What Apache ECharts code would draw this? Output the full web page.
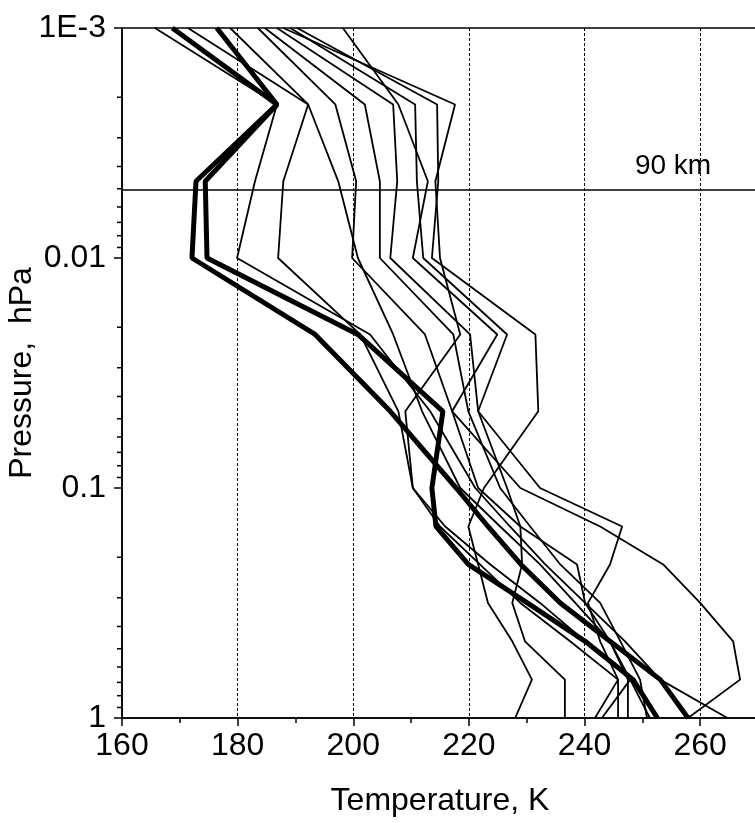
<!DOCTYPE html>
<html><head><meta charset="utf-8">
<script src="https://cdn.jsdelivr.net/npm/echarts@6/dist/echarts.min.js"></script>
<style>html,body{margin:0;padding:0;background:#fff}#c{width:755px;height:823px}</style>
</head><body><div id="c"></div>
<script>
// Pressure levels (hPa) shared by all profiles
const pressureLevels = [0.001, 0.00215, 0.00464, 0.01, 0.0215, 0.0464, 0.1, 0.147, 0.215, 0.316, 0.464, 0.681, 1];

// Thick profiles (temperature, K)
const thickA = [168.7, 186.8, 172.8, 172.1, 193.4, 206.4, 217.8, 223.3, 229.0, 235.8, 244.4, 253.1, 257.9];
const thickB = [176.4, 186.8, 174.4, 174.7, 200.8, 215.5, 213.6, 214.3, 219.9, 230.1, 240.1, 248.4, 252.6];

// Thin profiles (temperature, K)
const thin1  = [165.7, 186.8, 183.0, 179.9, 202.9, 213.3, 221.1, 227.1, 233.2, 240.1, 247.0, 253.1, 264.7];
const thin2  = [171.4, 192.2, 187.9, 187.0, 201.2, 207.8, 210.3, 215.0, 221.9, 228.9, 237.5, 245.8, 245.8];
const thin3  = [178.7, 192.2, 197.4, 200.8, 206.9, 211.9, 218.5, 225.4, 232.3, 238.4, 244.4, 247.5, 247.5];
const thin4  = [183.5, 196.9, 200.5, 199.8, 212.4, 217.1, 221.6, 228.9, 238.7, 240.1, 244.4, 247.9, 243.0];
const thin5  = [184.7, 202.0, 204.6, 204.6, 217.3, 219.9, 225.4, 230.6, 235.8, 242.7, 246.2, 249.6, 250.8];
const thin6  = [186.8, 206.9, 207.6, 206.4, 220.2, 221.6, 232.3, 246.5, 244.4, 240.6, 242.7, 245.8, 241.8];
const thin7  = [198.2, 207.8, 212.9, 210.3, 224.9, 217.1, 228.9, 242.7, 253.6, 260.0, 265.7, 266.9, 257.9];
const thin8  = [189.1, 210.7, 211.0, 212.1, 226.6, 221.6, 226.6, 228.9, 229.2, 227.5, 229.7, 236.6, 236.6];
const thin9  = [190.3, 214.5, 214.7, 213.6, 231.5, 232.0, 222.6, 219.9, 221.6, 223.3, 227.5, 230.9, 228.0];
const thin10 = [187.9, 217.6, 214.2, 215.0, 218.5, 209.0, 210.3, 215.9, 223.7, 232.3, 240.1, 247.9, 251.3];

const thinProfiles = [thin1, thin2, thin3, thin4, thin5, thin6, thin7, thin8, thin9, thin10];
const thickProfiles = [thickA, thickB];

// Axis ticks
const xTicks = [160, 180, 200, 220, 240, 260];
const yMinorTicks = [0.002,0.003,0.004,0.005,0.006,0.007,0.008,0.009,
                     0.02,0.03,0.04,0.05,0.06,0.07,0.08,0.09,
                     0.2,0.3,0.4,0.5,0.6,0.7,0.8,0.9];
const yLabels = {'-3':'1E-3','-2':'0.01','-1':'0.1','0':'1'};

// 90 km reference level
const level90kmP = 0.00506;
const level90kmLabel = '90 km';
const level90kmLabelT = 255.3;

const FONT = 'Liberation Sans, Arial, sans-serif';

function toPairs(arr){ return arr.map((t,i)=>[t, pressureLevels[i]]); }

const series = [];
thinProfiles.forEach(p => series.push({
  type:'line', data: toPairs(p), symbol:'none', silent:true,
  lineStyle:{color:'#000', width:1.8}, z:3
}));
thickProfiles.forEach(p => series.push({
  type:'line', data: toPairs(p), symbol:'none', silent:true,
  lineStyle:{color:'#000', width:5}, z:4
}));
// 90 km line
series.push({
  type:'line', data:[[160, level90kmP],[270, level90kmP]], symbol:'none', silent:true,
  lineStyle:{color:'#000', width:1.5}, z:2
});
series.push({
  type:'scatter', data:[[level90kmLabelT, level90kmP]], symbolSize:0, silent:true, z:6,
  itemStyle:{opacity:1, color:'#000'},
  label:{show:true, position:'top', distance:10, formatter: level90kmLabel,
         color:'#000', opacity:1, fontSize:28, fontFamily:FONT, textBorderWidth:0}
});
// y minor ticks
series.push({
  type:'custom', clip:false, silent:true, z:5,
  data: yMinorTicks.map(p=>[160,p]),
  renderItem:(params, api)=>{
    const pt = api.coord([api.value(0), api.value(1)]);
    return {type:'line', shape:{x1:pt[0]-5, y1:pt[1], x2:pt[0], y2:pt[1]},
            style:{stroke:'#000', lineWidth:1.5}};
  }
});

const chart = echarts.init(document.getElementById('c'), null, {renderer:'canvas'});
chart.setOption({
  animation:false,
  backgroundColor:'#fff',
  grid:{left:122, top:28, width:636, height:690, show:true, borderColor:'#000', borderWidth:1.5,
        backgroundColor:'transparent', outerBoundsMode:'none', containLabel:false},
  xAxis:{
    type:'value', min:160, max:270, interval:20,
    name:'Temperature, K', nameLocation:'middle', nameGap:67, nameMoveOverlap:false,
    nameTextStyle:{color:'#000', fontSize:32, fontFamily:FONT},
    axisLine:{show:true, lineStyle:{color:'#000', width:1.5}},
    axisTick:{show:true, length:8, lineStyle:{color:'#000', width:1.5}},
    minorTick:{show:true, splitNumber:2, length:5, lineStyle:{color:'#000', width:1.5}},
    axisLabel:{color:'#000', fontSize:32, fontFamily:FONT, margin:12,
      formatter:(v)=> xTicks.includes(v) ? String(v) : ''},
    splitLine:{show:true, lineStyle:{color:'#000', width:1, type:[3,2]}}
  },
  yAxis:{
    type:'log', logBase:10, min:0.001, max:1, inverse:true,
    name:'Pressure,  hPa', nameLocation:'middle', nameGap:84, nameRotate:90, nameMoveOverlap:false,
    nameTextStyle:{color:'#000', fontSize:32, fontFamily:FONT},
    axisLine:{show:true, lineStyle:{color:'#000', width:1.5}},
    axisTick:{show:true, length:8, lineStyle:{color:'#000', width:1.5}},
    axisLabel:{color:'#000', fontSize:32, fontFamily:FONT, margin:16,
      formatter:(v)=>{ const k = String(Math.round(Math.log10(v))); return yLabels[k] || ''; }},
    splitLine:{show:false}
  },
  series
});
</script>
</body></html>
